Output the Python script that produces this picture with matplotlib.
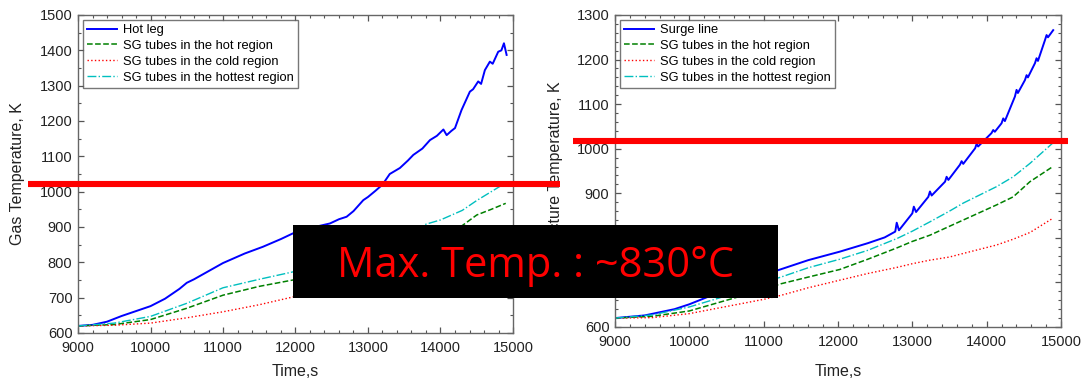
import matplotlib
matplotlib.use("Agg")
import matplotlib.pyplot as plt
from matplotlib.ticker import MultipleLocator
from matplotlib.lines import Line2D
from matplotlib.patches import Rectangle

# ---- left panel: gas temperature ----
t_hot_leg = [9000, 9200, 9400, 9600, 9800, 10000, 10200, 10400, 10500, 10600, 10800,
             11000, 11100, 11300, 11550, 11800, 11965, 12200, 12475, 12600, 12705, 12800,
             12935, 13000, 13100, 13200, 13300, 13440, 13550, 13625, 13750, 13855, 13950,
             14040, 14085, 14150, 14200, 14290, 14405, 14450, 14520, 14560, 14612, 14681,
             14720, 14796, 14840, 14875, 14912]
T_hot_leg = [620, 623, 632, 648, 662, 676, 697, 725, 742, 752, 775,
             798, 807, 825, 844, 866, 882, 897, 910, 922, 929, 945,
             976, 985, 1002, 1020, 1050, 1067, 1088, 1104, 1122, 1146, 1158,
             1176, 1160, 1172, 1180, 1231, 1283, 1290, 1312, 1305, 1344, 1368,
             1362, 1396, 1400, 1420, 1387]

t_left = [9000, 9500, 10000, 10500, 11000, 11500, 11965, 12500, 13000, 13500, 13800,
          14000, 14300, 14500, 14700, 14900]
T_left_hottest = [620, 628, 647, 684, 728, 752, 773, 800, 830, 868, 908,
                  920, 947, 975, 1000, 1025]
T_left_hot = [620, 624, 638, 670, 707, 732, 750, 780, 815, 855, 875,
              885, 904, 934, 950, 967]
T_left_cold = [620, 622, 628, 643, 660, 680, 702, 730, 762, 795, 815,
               830, 852, 868, 884, 900]

# ---- right panel: structure temperature ----
t_surge = [9000, 9400, 9800, 10000, 10300, 10600, 10900, 11186, 11600, 12023, 12400,
           12628, 12770, 12790, 12820, 13000, 13020, 13050, 13215, 13237, 13260, 13440,
           13461, 13485, 13640, 13663, 13685, 13845, 13865, 13885, 14065, 14088, 14110,
           14200, 14223, 14245, 14380, 14402, 14420, 14515, 14537, 14555, 14650, 14671,
           14690, 14785, 14806, 14825, 14895]
T_surge = [620, 626, 640, 651, 671, 693, 712, 727, 750, 769, 788,
           801, 814, 834, 817, 855, 870, 858, 892, 904, 895, 926,
           937, 930, 964, 972, 966, 1001, 1011, 1005, 1035, 1042, 1038,
           1057, 1068, 1062, 1117, 1132, 1125, 1154, 1165, 1160, 1192, 1203,
           1197, 1244, 1255, 1250, 1266]

t_right = [9000, 9500, 10000, 10500, 11000, 11233, 11600, 12023, 12400, 12800, 13000,
           13237, 13500, 13685, 14134, 14357, 14582, 14891]
T_right_hottest = [620, 627, 645, 670, 700, 712, 733, 752, 772, 799, 815,
                   836, 860, 878, 915, 937, 967, 1013]
T_right_hot = [620, 624, 636, 660, 684, 697, 712, 729, 752, 778, 792,
               806, 826, 840, 874, 892, 926, 960]
T_right_cold = [620, 621, 630, 646, 662, 671, 688, 705, 720, 734, 742,
                750, 757, 765, 784, 797, 812, 844]

labels_left = ["Hot leg", "SG tubes in the hot region", "SG tubes in the cold region",
               "SG tubes in the hottest region"]
labels_right = ["Surge line", "SG tubes in the hot region", "SG tubes in the cold region",
                "SG tubes in the hottest region"]

plt.rcParams['font.family'] = ['Liberation Sans', 'DejaVu Sans']

W, H = 1081, 381
fig = plt.figure(figsize=(W / 100, H / 100), dpi=100)


def px_axes(x0, y0, x1, y1):
    return fig.add_axes([x0 / W, 1 - y1 / H, (x1 - x0) / W, (y1 - y0) / H])


c_blue = (0, 0, 1)
c_green = (0, 0.5, 0)
c_red = (1, 0, 0)
c_cyan = (0, 0.75, 0.75)


def style(ax, ymin, ymax, yminor):
    ax.set_xlim(9000, 15000)
    ax.set_ylim(ymin, ymax)
    ax.xaxis.set_major_locator(MultipleLocator(1000))
    ax.xaxis.set_minor_locator(MultipleLocator(200))
    ax.yaxis.set_major_locator(MultipleLocator(100))
    ax.yaxis.set_minor_locator(MultipleLocator(yminor))
    ax.tick_params(which='both', direction='in', top=True, right=True, color='#555555',
                   labelsize=10.5, labelcolor='#222222')
    ax.tick_params(which='major', length=4, width=0.9)
    ax.tick_params(which='minor', length=2, width=0.8)
    ax.tick_params(axis='x', pad=6)
    ax.tick_params(axis='y', pad=4)
    for s in ax.spines.values():
        s.set_color('#666666')
        s.set_linewidth(1.0)
    ax.set_xlabel('Time,s', fontsize=11.5, color='#222222')


# left
ax1 = px_axes(78, 15, 513, 333)
ax1.plot(t_hot_leg, T_hot_leg, color=c_blue, lw=1.4, label=labels_left[0])
ax1.plot(t_left, T_left_hot, color=c_green, lw=1.1, ls='--', label=labels_left[1])
ax1.plot(t_left, T_left_cold, color=c_red, lw=1.0, ls=':', label=labels_left[2])
ax1.plot(t_left, T_left_hottest, color=c_cyan, lw=1.0, ls='-.', label=labels_left[3])
style(ax1, 600, 1500, 50)
ax1.set_ylabel('Gas Temperature, K', fontsize=11.5, color='#222222')
ax1.yaxis.set_label_coords((25 - 78) / 435, 0.5)
ax1.xaxis.label.set_va('center')
ax1.xaxis.set_label_coords(0.5, -(371 - 333) / 318)

# right
ax2 = px_axes(615, 15, 1061, 327)
ax2.plot(t_surge, T_surge, color=c_blue, lw=1.4, label=labels_right[0])
ax2.plot(t_right, T_right_hot, color=c_green, lw=1.1, ls='--', label=labels_right[1])
ax2.plot(t_right, T_right_cold, color=c_red, lw=1.0, ls=':', label=labels_right[2])
ax2.plot(t_right, T_right_hottest, color=c_cyan, lw=1.0, ls='-.', label=labels_right[3])
style(ax2, 600, 1300, 20)
ax2.set_ylabel('Structure Temperature, K', fontsize=11.5, color='#222222')
ax2.yaxis.set_label_coords((563 - 615) / 446, 0.5)
ax2.xaxis.label.set_va('center')
ax2.xaxis.set_label_coords(0.5, -(371 - 327) / 312)

for ax in (ax1, ax2):
    leg = ax.legend(loc='upper left', fontsize=9.3, frameon=True, fancybox=False,
                    handlelength=2.3, handletextpad=0.45, labelspacing=0.3,
                    borderaxespad=0.35, borderpad=0.35)
    leg.get_frame().set_edgecolor('#555555')
    leg.get_frame().set_linewidth(1.0)

# overlay annotations
fig.add_artist(Line2D([28 / W, 560 / W], [1 - 184 / H, 1 - 184 / H], color='red',
                      lw=4.4, solid_capstyle='butt', zorder=10))
fig.add_artist(Line2D([573 / W, 1068 / W], [1 - 141 / H, 1 - 141 / H], color='red',
                      lw=4.4, solid_capstyle='butt', zorder=10))
fig.add_artist(Rectangle((293 / W, 1 - 298 / H), (778 - 293) / W, (298 - 225) / H,
                         transform=fig.transFigure, facecolor='black', edgecolor='none',
                         zorder=11))
fig.text(536 / W, 1 - 277 / H, 'Max. Temp. : ~830°C', color='red', fontsize=30,
         family=['Open Sans', 'DejaVu Sans'], ha='center', va='baseline', zorder=12)

fig.savefig('out.png', dpi=100)
